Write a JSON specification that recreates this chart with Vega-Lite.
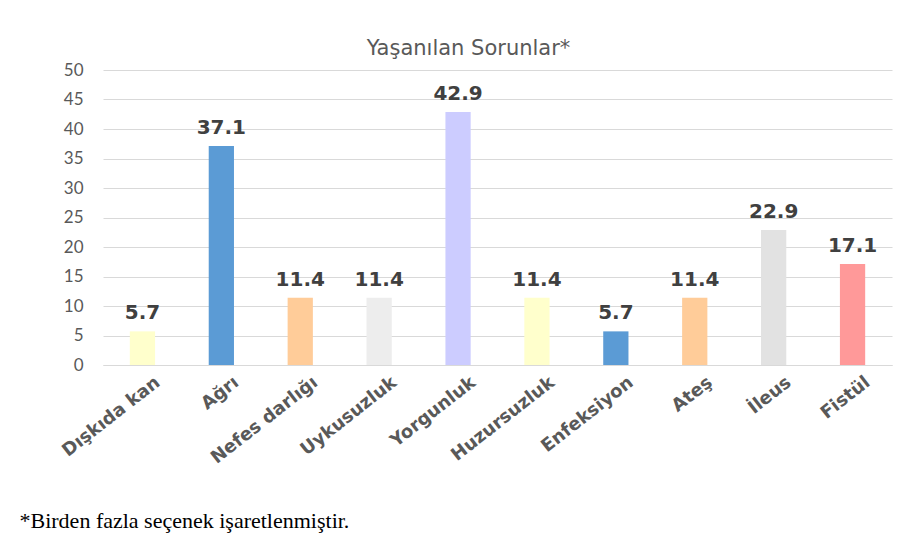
{
  "$schema": "https://vega.github.io/schema/vega-lite/v6.json",
  "autosize": "none",
  "width": 789,
  "height": 295,
  "padding": {"left": 103, "top": 70, "right": 18, "bottom": 186},
  "background": "white",
  "title": {
    "text": "Yaşanılan Sorunlar*",
    "font": "DejaVu Sans",
    "fontSize": 21,
    "fontWeight": "normal",
    "color": "#595959",
    "anchor": "middle",
    "dx": -29,
    "offset": 2
  },
  "data": {
    "values": [
      {"problem": "Dışkıda kan", "value": 5.7, "color": "#FFFFCC"},
      {"problem": "Ağrı", "value": 37.1, "color": "#5B9BD5"},
      {"problem": "Nefes darlığı", "value": 11.4, "color": "#FFCC99"},
      {"problem": "Uykusuzluk", "value": 11.4, "color": "#EDEDED"},
      {"problem": "Yorgunluk", "value": 42.9, "color": "#CCCCFF"},
      {"problem": "Huzursuzluk", "value": 11.4, "color": "#FFFFCC"},
      {"problem": "Enfeksiyon", "value": 5.7, "color": "#5B9BD5"},
      {"problem": "Ateş", "value": 11.4, "color": "#FFCC99"},
      {"problem": "İleus", "value": 22.9, "color": "#E2E2E2"},
      {"problem": "Fistül", "value": 17.1, "color": "#FF9999"}
    ]
  },
  "encoding": {
    "x": {
      "field": "problem",
      "type": "nominal",
      "sort": null,
      "scale": {"paddingInner": 0.68, "paddingOuter": 0.34},
      "axis": {
        "title": "*Birden fazla seçenek işaretlenmiştir.",
        "titleFont": "Liberation Serif",
        "titleFontSize": 22,
        "titleFontWeight": "normal",
        "titleColor": "#000000",
        "titleAlign": "left",
        "titleAnchor": "start",
        "titleX": -84,
        "titleY": 145,
        "labelAngle": -38,
        "labelFont": "DejaVu Sans",
        "labelFontSize": 18,
        "labelFontWeight": "bold",
        "labelColor": "#595959",
        "labelPadding": 8,
        "labelOffset": 10,
        "ticks": false,
        "domainColor": "#D9D9D9",
        "domainWidth": 1
      }
    },
    "y": {
      "field": "value",
      "type": "quantitative",
      "scale": {"domain": [0, 50]},
      "axis": {
        "title": null,
        "values": [0, 5, 10, 15, 20, 25, 30, 35, 40, 45, 50],
        "labelFont": "Lato",
        "labelFontSize": 17,
        "labelColor": "#595959",
        "labelPadding": 20,
        "ticks": false,
        "domain": false,
        "gridColor": "#D9D9D9",
        "gridWidth": 1
      }
    }
  },
  "layer": [
    {
      "mark": {"type": "bar"},
      "encoding": {"color": {"field": "color", "type": "nominal", "scale": null}}
    },
    {
      "mark": {"type": "text", "dy": -18, "font": "DejaVu Sans", "fontSize": 20, "fontWeight": "bold", "color": "#404040"},
      "encoding": {"text": {"field": "value", "type": "quantitative", "format": ".1f"}}
    }
  ],
  "config": {"view": {"stroke": null}}
}
